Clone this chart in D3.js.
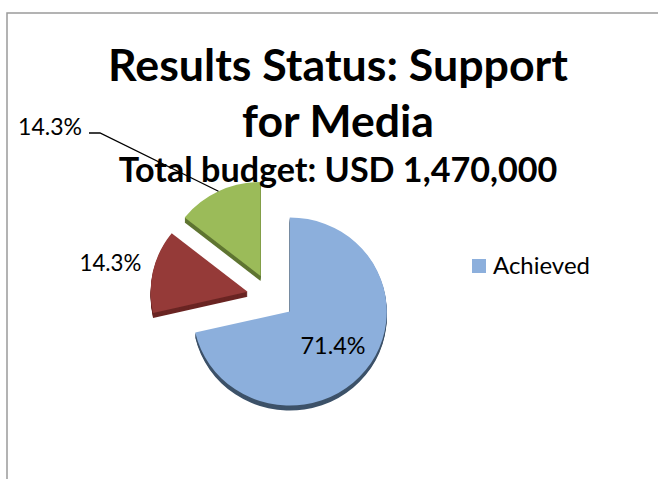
<!DOCTYPE html>
<html>
<head>
<meta charset="utf-8">
<script src="https://cdn.jsdelivr.net/npm/d3@7"></script>
<style>
  body { margin: 0; background: #fff; }
  svg { display: block; }
  text { font-family: Lato, "Open Sans", sans-serif; fill: #000; }
</style>
</head>
<body>
<svg id="chart" width="658" height="479"></svg>
<script>
// Data
var categories = ["Achieved", "Partially achieved", "Not achieved"];
var values = [71.4, 14.3, 14.3];
var colors = ["#8cafdc", "#953a38", "#9bbb59"];
var sideColors = ["#3d5269", "#6a2523", "#5f7532"];
var titleLines = ["Results Status: Support", "for Media"];
var subtitle = "Total budget: USD 1,470,000";

var svg = d3.select("#chart");

// chart frame (only top and left edges fall inside the picture)
svg.append("rect")
  .attr("x", 7).attr("y", 13)
  .attr("width", 700).attr("height", 600)
  .attr("fill", "none")
  .attr("stroke", "#9b9b9b")
  .attr("stroke-width", 1.5);

// scale a text's font-size so it spans the given width
function fitText(sel, width) {
  var size = parseFloat(sel.attr("font-size"));
  var w = sel.node().getComputedTextLength();
  sel.attr("font-size", size * width / w);
  return sel;
}

// titles
var cx = 338;
fitText(svg.append("text").attr("x", cx).attr("y", 81)
  .attr("text-anchor", "middle").attr("font-weight", "bold")
  .attr("font-size", 40).text(titleLines[0]), 460);
fitText(svg.append("text").attr("x", cx).attr("y", 137)
  .attr("text-anchor", "middle").attr("font-weight", "bold")
  .attr("font-size", 40).text(titleLines[1]), 192);

// pie geometry
var center = [271, 297];
var radius = 97;
var tilt = 0.97;       // slight vertical squash of the 3D pie
var explode = 24;
var depth = 5;

var pie = d3.pie().sort(null).startAngle(0).endAngle(2 * Math.PI);
var arcs = pie(values);
var arc = d3.arc().innerRadius(0).outerRadius(radius);

arcs.forEach(function(a) {
  var mid = (a.startAngle + a.endAngle) / 2;
  a.mid = mid;
  a.vx = center[0] + explode * Math.sin(mid);
  a.vy = center[1] - explode * Math.cos(mid) * tilt;
});

var pieG = svg.append("g");

// sides first (stacked copies shifted down), then the tops
arcs.forEach(function(a, i) {
  for (var k = depth; k >= 1; k--) {
    pieG.append("path")
      .attr("transform", "translate(" + a.vx + "," + (a.vy + k) + ") scale(1," + tilt + ")")
      .attr("d", arc(a))
      .attr("fill", sideColors[i]);
  }
});
arcs.forEach(function(a, i) {
  pieG.append("path")
    .attr("transform", "translate(" + a.vx + "," + a.vy + ") scale(1," + tilt + ")")
    .attr("d", arc(a))
    .attr("fill", colors[i]);
});

// subtitle sits over the pie (drawn after it like in the original)
fitText(svg.append("text").attr("x", cx).attr("y", 182)
  .attr("text-anchor", "middle").attr("font-weight", "bold")
  .attr("font-size", 29).text(subtitle), 439);

// data labels
var total = d3.sum(values);
function pct(v) { return (v / total * 100).toFixed(1) + "%"; }

// blue: inside, along the bisector
var a0 = arcs[0];
fitText(svg.append("text")
  .attr("x", a0.vx + radius * 0.57 * Math.sin(a0.mid))
  .attr("y", a0.vy - radius * 0.57 * Math.cos(a0.mid) * tilt + 9)
  .attr("text-anchor", "middle").attr("font-size", 24)
  .text(pct(values[0])), 65);

// red: outside end
var a1 = arcs[1];
fitText(svg.append("text")
  .attr("x", a1.vx + radius * 1.45 * Math.sin(a1.mid))
  .attr("y", a1.vy - radius * 1.45 * Math.cos(a1.mid) * tilt + 9)
  .attr("text-anchor", "middle").attr("font-size", 24)
  .text(pct(values[1])), 62);

// green: label dragged to the top-left with a leader line
var a2 = arcs[2];
fitText(svg.append("text")
  .attr("x", 50).attr("y", 135)
  .attr("text-anchor", "middle").attr("font-size", 24)
  .text(pct(values[2])), 64);
var tip = [a2.vx + radius * Math.sin(a2.mid), a2.vy - radius * Math.cos(a2.mid) * tilt];
svg.append("path")
  .attr("d", d3.line()([[89, 133], [100, 133], tip]))
  .attr("fill", "none")
  .attr("stroke", "#000")
  .attr("stroke-width", 1.3);

// legend (only the first entry is shown)
var legend = svg.append("g").attr("transform", "translate(472,259)");
legend.append("rect")
  .attr("width", 14).attr("height", 14)
  .attr("fill", colors[0]);
fitText(legend.append("text")
  .attr("x", 21).attr("y", 15)
  .attr("font-size", 24)
  .text(categories[0]), 97);
</script>
</body>
</html>
